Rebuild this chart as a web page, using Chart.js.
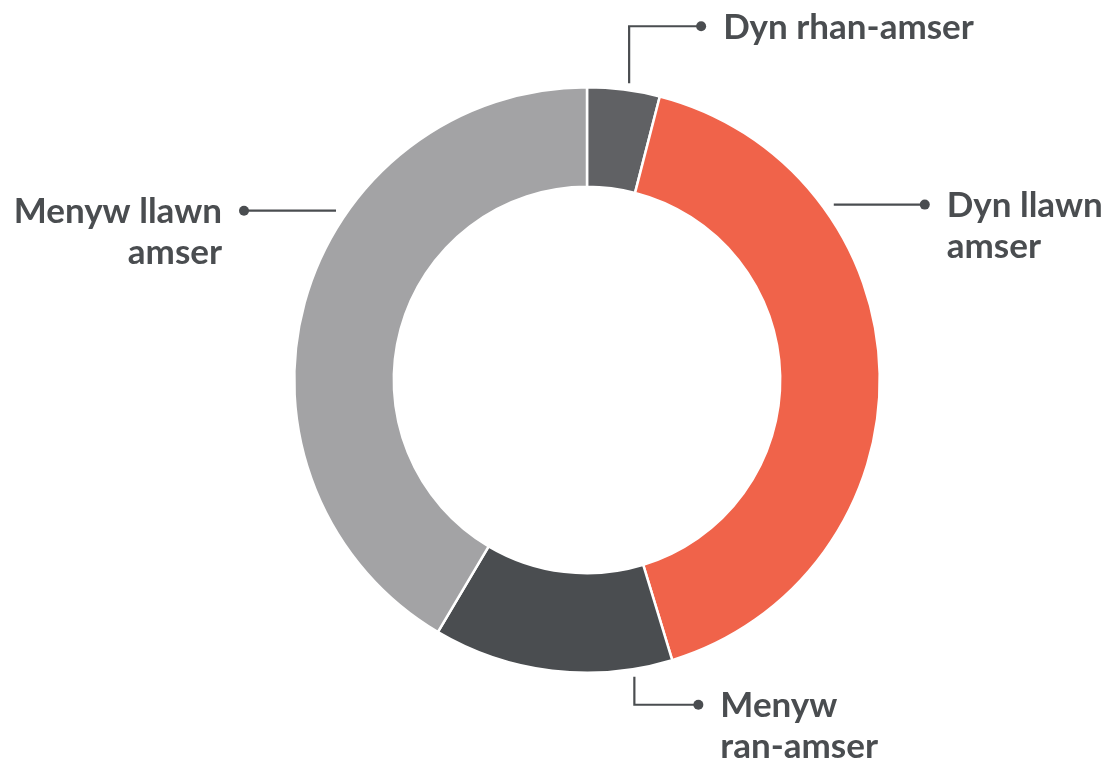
<!DOCTYPE html>
<html>
<head>
<meta charset="utf-8">
<script src="https://cdn.jsdelivr.net/npm/chart.js@4.4.0/dist/chart.umd.min.js"></script>
<style>
  html, body { margin: 0; padding: 0; background: #ffffff; }
  #wrap { width: 1109px; height: 765px; position: relative; }
</style>
</head>
<body>
<div id="wrap"><canvas id="donutChart"></canvas></div>
<script>
// Data (share in %)
const categories = ['Dyn rhan-amser', 'Dyn llawn amser', 'Menyw ran-amser', 'Menyw llawn amser'];
const labelLines = [['Dyn rhan-amser'], ['Dyn llawn', 'amser'], ['Menyw', 'ran-amser'], ['Menyw llawn', 'amser']];
const shares = [4.0, 41.3, 13.2, 41.5];
const colours = ['#606164', '#f0634a', '#4a4d50', '#a3a3a5'];

const inkColour = '#4a4d50';

// Callout layout: angle (deg from 12 o'clock) where the leader starts, and its shape
const callouts = [
  { angle: 8,    kind: 'up',    dx: 72, rise: 57, side: 'right' },
  { angle: 54.6, kind: 'flat',  dx: 91, side: 'right' },
  { angle: 171,  kind: 'down',  dx: 64, drop: 28, side: 'right' },
  { angle: -56,  kind: 'flat',  dx: -92, side: 'left' }
];

const calloutPlugin = {
  id: 'callouts',
  afterDraw(chart) {
    const ctx = chart.ctx;
    const arc = chart.getDatasetMeta(0).data[0];
    const cx = arc.x, cy = arc.y, r = arc.outerRadius;
    ctx.save();
    ctx.strokeStyle = inkColour;
    ctx.fillStyle = inkColour;
    ctx.lineWidth = 2.2;
    ctx.font = 'bold 35px Lato, "Open Sans", sans-serif';
    ctx.textBaseline = 'middle';
    callouts.forEach((c, i) => {
      const a = c.angle * Math.PI / 180;
      let sx = cx + (r + 10) * Math.sin(a);
      let sy = cy - (r + 10) * Math.cos(a);
      let pts = [];
      if (c.kind === 'up') {
        sy = cy - r - 4;
        pts = [[sx, sy], [sx, sy - c.rise], [sx + c.dx, sy - c.rise]];
      } else if (c.kind === 'down') {
        sy = cy + r + 4;
        pts = [[sx, sy], [sx, sy + c.drop], [sx + c.dx, sy + c.drop]];
      } else {
        pts = [[sx, sy], [sx + c.dx, sy]];
      }
      const ex = pts[pts.length - 1][0];
      const ey = pts[pts.length - 1][1];
      ctx.beginPath();
      ctx.moveTo(pts[0][0], pts[0][1]);
      for (let k = 1; k < pts.length; k++) ctx.lineTo(pts[k][0], pts[k][1]);
      ctx.stroke();
      ctx.beginPath();
      ctx.arc(ex, ey, 5, 0, Math.PI * 2);
      ctx.fill();
      const lines = labelLines[i];
      ctx.textAlign = c.side === 'right' ? 'left' : 'right';
      const tx = c.side === 'right' ? ex + 22 : ex - 22;
      lines.forEach((t, j) => {
        ctx.fillText(t, tx, ey + 1 + j * 41);
      });
    });
    ctx.restore();
  }
};

const chart = new Chart(document.getElementById('donutChart').getContext('2d'), {
  type: 'doughnut',
  data: {
    labels: categories,
    datasets: [{
      data: shares,
      backgroundColor: colours,
      borderColor: '#ffffff',
      borderWidth: 2.5
    }]
  },
  options: {
    responsive: true,
    maintainAspectRatio: false,
    animation: false,
    cutout: '66%',
    layout: { padding: { top: 86, bottom: 91, left: 65, right: 0 } },
    plugins: {
      legend: { display: false },
      tooltip: { enabled: false }
    }
  },
  plugins: [calloutPlugin]
});
</script>
</body>
</html>
